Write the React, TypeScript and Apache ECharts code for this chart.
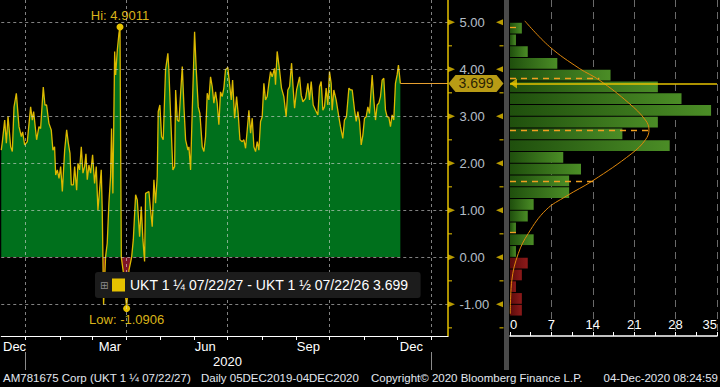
import React, { useEffect, useRef } from 'react';
import * as echarts from 'echarts';

// ---- data (days since 2020-01-01, spread values) ----
const days = [
  -22, -21.0, -18.9, -17.4, -15.9, -13.5, -12.0, -10.5, -8.4, -6.0, -3.9, -2.7, -0.9, 1.5, 4.5, 6.0, 7.2, 9.9,
  12.0, 13.5, 15.9, 17.4, 18.9, 21.0, 23.1, 24.6, 26.1, 27.1, 28.6, 30.1, 31.6, 33.1, 35.2, 37.0, 38.5, 40.0,
  41.2, 43.0, 44.2, 46.0, 47.2, 48.7, 50.2, 51.7, 53.2, 54.4, 55.6, 57.1, 58.6, 60.4, 62.2, 63.7, 65.2, 66.7,
  68.2, 69.1, 70.3, 72.1, 73.6, 75.1, 76.6, 77.5, 78.7, 80.3, 81.2, 82.7, 84.2, 85.1, 85.7, 86.3, 88.7, 91.1,
  93.2, 95.6, 97.1, 99.2, 100.7, 102.8, 104.3, 105.8, 107.3, 108.2, 111.2, 112.7, 114.2, 115.7, 117.2, 118.7,
  119.6, 121.1, 122.6, 124.1, 126.2, 128.3, 129.2, 130.7, 132.8, 134.4, 135.3, 136.8, 138.3, 139.8, 141.3,
  142.8, 144.3, 146.4, 147.3, 148.8, 150.3, 152.4, 153.9, 155.7, 157.2, 159.3, 160.8, 162.3, 163.8, 165.3,
  166.8, 168.3, 169.8, 171.3, 172.8, 174.3, 175.8, 177.3, 178.8, 180.3, 182.4, 183.9, 185.5, 186.7, 188.5,
  190.3, 191.8, 193.3, 195.4, 196.9, 198.4, 199.9, 201.4, 202.9, 204.4, 205.9, 207.4, 208.9, 210.4, 211.9,
  213.4, 214.9, 216.4, 217.9, 219.4, 220.9, 222.4, 224.5, 225.4, 226.9, 229.0, 230.8, 232.9, 235.0, 236.5,
  238.1, 239.9, 241.4, 242.6, 244.4, 247.1, 248.6, 250.1, 252.5, 254.6, 256.1, 257.6, 259.4, 261.5, 263.6,
  265.1, 266.6, 268.1, 269.6, 271.1, 272.6, 274.1, 275.6, 276.5, 278.0, 280.1, 282.5, 284.0, 286.1, 287.6,
  289.4, 291.6, 293.1, 294.6, 296.7, 298.2, 299.7, 301.2, 302.7, 304.2, 305.7, 307.2, 308.7, 310.2, 312.6,
  314.1, 315.6, 317.1, 318.6, 320.1, 321.6, 323.1, 324.6, 326.1, 327.6, 329.1, 330.6, 332.1, 333.6, 335.1,
  336.3, 338.0,
];
const values = [
  2.28, 2.46, 2.92, 2.43, 3.0, 2.35, 2.25, 3.2, 3.49, 2.78, 2.57, 2.67, 2.39, 2.46, 3.2, 2.92, 3.1, 2.5,
  2.78, 2.74, 3.62, 3.24, 3.24, 2.85, 2.71, 2.28, 2.35, 1.75, 1.86, 1.68, 1.93, 1.4, 2.28, 2.71, 2.43, 2.21,
  1.54, 1.54, 1.93, 1.43, 2.0, 1.86, 2.35, 1.79, 1.93, 2.2, 1.65, 1.96, 1.79, 2.18, 1.57, 1.93, 1.0, 1.43,
  1.86, 1.0, -1.01, 0.01, 0.3, 1.15, 1.72, 2.74, 1.36, 4.38, 3.88, 4.41, 4.77, 4.9011, 2.4, 0.0, -0.41, -1.0906,
  -0.27, 0.0, 0.37, 1.33, 1.22, 0.44, 1.08, 0.37, -0.09, 1.36, 1.4, 1.0, 0.65, 1.65, 1.15, 1.72,
  3.1, 3.24, 2.57, 2.5, 3.99, 4.34, 3.99, 3.06, 1.86, 1.93, 3.56, 2.92, 2.89, 3.49, 4.06,
  3.2, 2.5, 2.28, 2.35, 1.86, 3.13, 4.8, 3.99, 3.2, 3.06, 2.35, 2.25, 2.57, 3.49, 3.35,
  3.84, 3.63, 3.28, 3.52, 3.28, 2.82, 3.52, 3.42, 3.6, 3.99, 4.04, 3.7, 3.35, 3.77, 2.96,
  3.42, 3.03, 2.5, 2.46, 2.5, 2.32, 2.71, 3.13, 2.64, 2.96, 2.35, 2.25, 2.46, 2.28, 2.89,
  2.99, 3.7, 3.35, 3.42, 3.7, 3.95, 3.84, 4.02, 3.67, 4.38, 3.99, 3.6, 3.42, 2.99, 3.56,
  3.63, 4.13, 3.56, 3.17, 3.56, 3.84, 3.45, 3.31, 3.38, 3.7, 3.35, 3.74, 3.24, 3.13, 3.03,
  3.63, 3.74, 3.13, 3.2, 3.6, 3.24, 3.95, 3.7, 3.13, 3.56, 3.35, 2.99, 2.78, 2.53, 2.92,
  2.99, 3.6, 3.56, 3.56, 3.13, 2.89, 3.1, 2.89, 2.39, 2.6, 2.96, 2.99, 3.2, 3.06, 3.88,
  3.35, 2.92, 3.24, 3.28, 3.42, 3.77, 3.81, 3.13, 2.99, 2.98, 2.78, 3.03, 2.92, 3.7, 3.88,
  4.09, 3.699,
];
const seriesName = 'UKT 1 ¼ 07/22/27 - UKT 1 ½ 07/22/26';

// axis domain / tick labels
const xMinDay = -22;
const xMaxDay = 381;
const yMin = -1.674;
const yMax = 5.474;
const yTicks = [-1, 0, 1, 2, 3, 4, 5];
const yMinorTicks = [-1.5, -0.5, 0.5, 1.5, 2.5, 3.5, 4.5];
const monthNames = ['Jan', 'Feb', 'Mar', 'Apr', 'May', 'Jun', 'Jul', 'Aug', 'Sep', 'Oct', 'Nov', 'Dec'];
const monthLabelDates = ['2019-12-22', '2020-03-17', '2020-06-11', '2020-09-12', '2020-12-14'];
const quarterDates = ['2020-01-01', '2020-04-01', '2020-07-01', '2020-10-01', '2021-01-01'];
const yearLabelDates = ['2020-07-01'];
const yearBoundaryDates = ['2020-01-01', '2021-01-01'];

// histogram (count of days per 0.25 bucket)
const binWidth = 0.25;
const histBinStart = [4.75, 4.5, 4.25, 4.0, 3.75, 3.5, 3.25, 3.0, 2.75, 2.5, 2.25, 2.0, 1.75, 1.5, 1.25, 1.0, 0.75, 0.5, 0.25, 0.0, -0.25, -0.5, -0.75, -1.0, -1.25];
const histCounts = [2, 1, 3, 8, 17, 25, 29, 34, 25, 19, 27, 9, 12, 10, 10, 4, 3, 1, 4, 1, 3, 2, 1, 2, 2];
const fitCounts = [2.5, 6.7, 11.7, 15.1, 20.1, 22.9, 23.5, 22.9, 20.6, 14.0, 9.5, 6.1, 3.1, 1.4, 0.3, 0.05];
const fitValues = [5.03, 4.48, 4.02, 3.77, 3.28, 2.92, 2.71, 2.5, 2.21, 1.63, 1.3, 1.01, 0.51, 0.08, -0.5, -1.2];
const sdLevels = [4.89, 3.81, 2.71, 1.62, 0.53];
const sdReach = [1.5, 15.1, 23.5, 14.2, 1.5];

const FONT = "'Liberation Sans', Arial, sans-serif";
const YELLOW = '#e6c200';

function buildCalendar(): string[] {
  const out: string[] = [];
  const base = Date.UTC(2020, 0, 1);
  for (let d = xMinDay; d <= xMaxDay; d++) {
    out.push(new Date(base + d * 86400000).toISOString().slice(0, 10));
  }
  return out;
}

export default function App() {
  const ref = useRef<HTMLDivElement>(null);
  useEffect(() => {
    document.body.style.margin = '0';
    document.body.style.background = '#000';
    if (!ref.current) return;
    const chart = echarts.init(ref.current, undefined, { renderer: 'svg' });
    const cal = buildCalendar();
    const pts = days.map((d, i) => [d, values[i]]);
    const lastDay = days[days.length - 1];
    const lastVal = values[values.length - 1];
    const histData = histBinStart.map((b, i) => [b, histCounts[i]]);
    const fit = fitCounts.map((c, i) => [c, fitValues[i]]);

    const option: any = {
      animation: false,
      backgroundColor: '#000',
      textStyle: { fontFamily: FONT },
      grid: [
        { left: 0, top: 0, width: 448, height: 336 },
        { left: 510, top: 0, width: 209, height: 336 },
        { left: 448, top: 0, width: 56, height: 336 },
      ],
      visualMap: {
        type: 'piecewise',
        show: false,
        seriesIndex: 0,
        dimension: 1,
        pieces: [
          { gte: -10, lt: 0, color: '#7e1426' },
          { gte: 0, lte: 10, color: '#00701c' },
        ],
      },
      legend: {
        data: [{ name: seriesName, icon: 'rect' }],
        left: 95,
        top: 272,
        z: 20,
        selectedMode: false,
        backgroundColor: '#1c1c1c',
        borderRadius: 3,
        padding: [6, 12, 6, 17],
        itemWidth: 13,
        itemHeight: 13,
        itemGap: 4,
        textStyle: { color: '#ffffff', fontSize: 14, fontFamily: FONT },
        formatter: (n: string) => n + ' ' + lastVal.toFixed(3),
      },
      xAxis: [
        { gridIndex: 0, type: 'value', min: xMinDay, max: xMaxDay, show: false },
        {
          gridIndex: 0,
          type: 'category',
          position: 'bottom',
          data: cal,
          boundaryGap: false,
          min: 0,
          max: cal.length - 1,
          z: 10,
          axisLine: { show: true, onZero: false, lineStyle: { color: '#ffffff', width: 1 } },
          axisTick: { show: true, interval: (_i: number, v: string) => v.slice(8) === '01', length: 4, lineStyle: { color: '#ffffff' } },
          axisLabel: {
            show: true,
            interval: (_i: number, v: string) => monthLabelDates.includes(v),
            formatter: (v: string) => monthNames[+v.slice(5, 7) - 1],
            color: '#ffffff',
            fontSize: 13,
            margin: 4,
          },
          splitLine: {
            show: true,
            interval: (_i: number, v: string) => quarterDates.includes(v),
            lineStyle: { color: 'rgba(215,215,215,0.6)', type: [3, 3], width: 1 },
          },
        },
        {
          gridIndex: 0,
          type: 'category',
          position: 'bottom',
          data: cal,
          boundaryGap: false,
          min: 0,
          max: cal.length - 1,
          offset: 16,
          axisLine: { show: false, onZero: false },
          axisTick: { show: true, interval: (_i: number, v: string) => yearBoundaryDates.includes(v), length: 18, lineStyle: { color: '#8a8a8a' } },
          axisLabel: {
            show: true,
            interval: (_i: number, v: string) => yearLabelDates.includes(v),
            formatter: (v: string) => v.slice(0, 4),
            color: '#ffffff',
            fontSize: 13,
            margin: 3,
          },
          splitLine: { show: false },
        },
        {
          gridIndex: 1,
          type: 'value',
          position: 'bottom',
          min: 0,
          max: 35,
          interval: 7,
          axisLine: { show: true, onZero: false, lineStyle: { color: '#ffffff', width: 1.5 } },
          axisTick: { show: true, inside: true, length: 4, lineStyle: { color: '#ffffff' } },
          minorTick: { show: true, splitNumber: 2, length: 4, lineStyle: { color: '#ffffff' } },
          axisLabel: { inside: true, color: '#ffffff', fontSize: 13, margin: 5, alignMinLabel: 'left', alignMaxLabel: 'right' },
          splitLine: { show: true, showMinLine: false, lineStyle: { color: '#6a6a6a', type: [7, 5], width: 1 } },
        },
        { gridIndex: 2, type: 'value', min: 0, max: 1, show: false },
      ],
      yAxis: [
        {
          gridIndex: 0,
          type: 'value',
          position: 'right',
          min: yMin,
          max: yMax,
          minInterval: 1,
          maxInterval: 1,
          splitNumber: 7,
          z: 10,
          axisLine: { show: true, onZero: false, lineStyle: { color: YELLOW, width: 1.5 } },
          axisTick: { show: false },
          axisLabel: { show: false },
          splitLine: {
            show: true,
            showMinLine: false,
            showMaxLine: false,
            lineStyle: { color: 'rgba(215,215,215,0.6)', type: [3, 3], width: 1 },
          },
        },
        { gridIndex: 1, type: 'value', min: yMin, max: yMax, show: false },
        { gridIndex: 2, type: 'value', min: yMin, max: yMax, show: false },
      ],
      series: [
        {
          type: 'line',
          name: 'area',
          xAxisIndex: 0,
          yAxisIndex: 0,
          data: pts,
          symbol: 'none',
          silent: true,
          z: 2,
          lineStyle: { width: 0, opacity: 0 },
          areaStyle: { opacity: 1 },
        },
        {
          type: 'line',
          name: seriesName,
          xAxisIndex: 0,
          yAxisIndex: 0,
          data: pts,
          symbol: 'none',
          silent: true,
          z: 3,
          itemStyle: { color: YELLOW },
          lineStyle: { color: '#dcb900', width: 1.3 },
          markPoint: {
            symbol: 'circle',
            symbolSize: 7,
            silent: true,
            itemStyle: { color: YELLOW },
            data: [
              {
                type: 'max',
                valueDim: 'y',
                label: { show: true, position: 'top', distance: 1, formatter: (p: any) => 'Hi: ' + p.value, color: '#d9b41a', fontSize: 13 },
              },
              {
                type: 'min',
                valueDim: 'y',
                label: { show: true, position: 'bottom', distance: 1, formatter: (p: any) => 'Low: ' + p.value, color: '#d9b41a', fontSize: 13 },
              },
            ],
          },
          markLine: {
            symbol: 'none',
            silent: true,
            label: { show: false },
            lineStyle: { color: '#e8a030', width: 1, type: 'solid' },
            data: [[{ coord: [lastDay, lastVal] }, { coord: [xMaxDay, lastVal] }]],
          },
        },
        {
          type: 'custom',
          xAxisIndex: 3,
          yAxisIndex: 1,
          silent: true,
          data: histData,
          encode: { x: 1, y: 0 },
          renderItem: (_params: any, api: any) => {
            const lo = api.value(0);
            const cnt = api.value(1);
            const a = api.coord([0, lo + binWidth]);
            const b = api.coord([cnt, lo]);
            const neg = lo < 0;
            return {
              type: 'rect',
              shape: { x: a[0], y: a[1] + 0.5, width: b[0] - a[0], height: b[1] - a[1] - 1 },
              style: {
                fill: new echarts.graphic.LinearGradient(0, 0, 1, 0, [
                  { offset: 0, color: neg ? '#5a0b0b' : '#1f4f0d' },
                  { offset: 1, color: neg ? '#8e1a1a' : '#4b8d26' },
                ]),
              },
            };
          },
        },
        {
          type: 'line',
          xAxisIndex: 3,
          yAxisIndex: 1,
          data: fit,
          smooth: 0.4,
          symbol: 'none',
          silent: true,
          z: 4,
          lineStyle: { color: '#e0880c', width: 1 },
          markLine: {
            symbol: 'none',
            silent: true,
            label: { show: false },
            lineStyle: { color: '#f0a020', type: [6, 5], width: 1.3 },
            data: [
              ...sdLevels.map((lv, i) => [{ coord: [0, lv] }, { coord: [sdReach[i], lv] }]),
              [{ coord: [0, lastVal], lineStyle: { color: YELLOW, type: 'solid', width: 1.5 } }, { coord: [35, lastVal] }],
            ],
          },
        },
        {
          type: 'scatter',
          xAxisIndex: 3,
          yAxisIndex: 1,
          silent: true,
          z: 6,
          data: [[0, lastVal]],
          symbol: 'triangle',
          symbolSize: [10, 7],
          symbolRotate: 90,
          symbolOffset: [3.5, 0],
          itemStyle: { color: YELLOW },
        },
        {
          type: 'scatter',
          xAxisIndex: 4,
          yAxisIndex: 2,
          silent: true,
          data: yTicks.map((v) => [0, v]),
          symbol: 'triangle',
          symbolSize: [6, 7],
          symbolRotate: -90,
          symbolOffset: [3.5, 0],
          itemStyle: { color: YELLOW },
        },
        {
          type: 'scatter',
          xAxisIndex: 4,
          yAxisIndex: 2,
          silent: true,
          data: yTicks.map((v) => [1, v]),
          symbol: 'triangle',
          symbolSize: [6, 7],
          symbolRotate: 90,
          symbolOffset: [-4.5, 0],
          itemStyle: { color: YELLOW },
        },
        {
          type: 'scatter',
          xAxisIndex: 4,
          yAxisIndex: 2,
          silent: true,
          data: yMinorTicks.map((v) => [0, v]),
          symbol: 'rect',
          symbolSize: [4, 1.3],
          symbolOffset: [2, 0],
          itemStyle: { color: YELLOW },
        },
        {
          type: 'scatter',
          xAxisIndex: 4,
          yAxisIndex: 2,
          silent: true,
          data: yMinorTicks.map((v) => [1, v]),
          symbol: 'rect',
          symbolSize: [4, 1.3],
          symbolOffset: [-2.5, 0],
          itemStyle: { color: YELLOW },
        },
        {
          type: 'scatter',
          xAxisIndex: 4,
          yAxisIndex: 2,
          silent: true,
          data: yTicks.map((v) => [0, v]),
          symbol: 'circle',
          symbolSize: 1,
          itemStyle: { color: 'rgba(0,0,0,0)' },
          label: {
            show: true,
            position: 'right',
            distance: 11,
            formatter: (p: any) => Number(p.value[1]).toFixed(2),
            color: '#e3f0ff',
            fontSize: 13,
          },
        },
        {
          type: 'scatter',
          xAxisIndex: 4,
          yAxisIndex: 2,
          silent: true,
          z: 8,
          data: [[0.5, lastVal]],
          symbol: 'path://M0,8 L7,0 L48,0 L55,8 L48,16 L7,16 Z',
          symbolSize: [55, 17],
          itemStyle: { color: '#e6c21a' },
          label: {
            show: true,
            position: 'inside',
            formatter: () => lastVal.toFixed(3),
            color: '#000000',
            fontSize: 14,
          },
        },
      ],
      graphic: [
        { type: 'rect', left: 504, top: 0, shape: { width: 5, height: 370 }, style: { fill: '#4a4a4a' }, silent: true },
        { type: 'text', left: 100, top: 280, style: { text: '⊞', fill: '#8c8c8c', font: "10px 'DejaVu Sans'" }, z: 30, silent: true },
        { type: 'text', left: 3, top: 372, style: { text: 'AM781675 Corp (UKT 1 ¼ 07/22/27)', fill: '#e2e8f0', font: `11.5px ${FONT}` }, silent: true },
        { type: 'text', left: 201, top: 372, style: { text: 'Daily 05DEC2019-04DEC2020', fill: '#e2e8f0', font: `11.5px ${FONT}` }, silent: true },
        { type: 'text', left: 371, top: 372, style: { text: 'Copyright© 2020 Bloomberg Finance L.P.', fill: '#e2e8f0', font: `11.5px ${FONT}` }, silent: true },
        { type: 'text', right: 2, top: 372, style: { text: '04-Dec-2020 08:24:59', fill: '#e2e8f0', font: `11.5px ${FONT}` }, silent: true },
      ],
    };
    chart.setOption(option);
    return () => chart.dispose();
  }, []);
  return <div ref={ref} style={{ width: 720, height: 387, background: '#000' }} />;
}
